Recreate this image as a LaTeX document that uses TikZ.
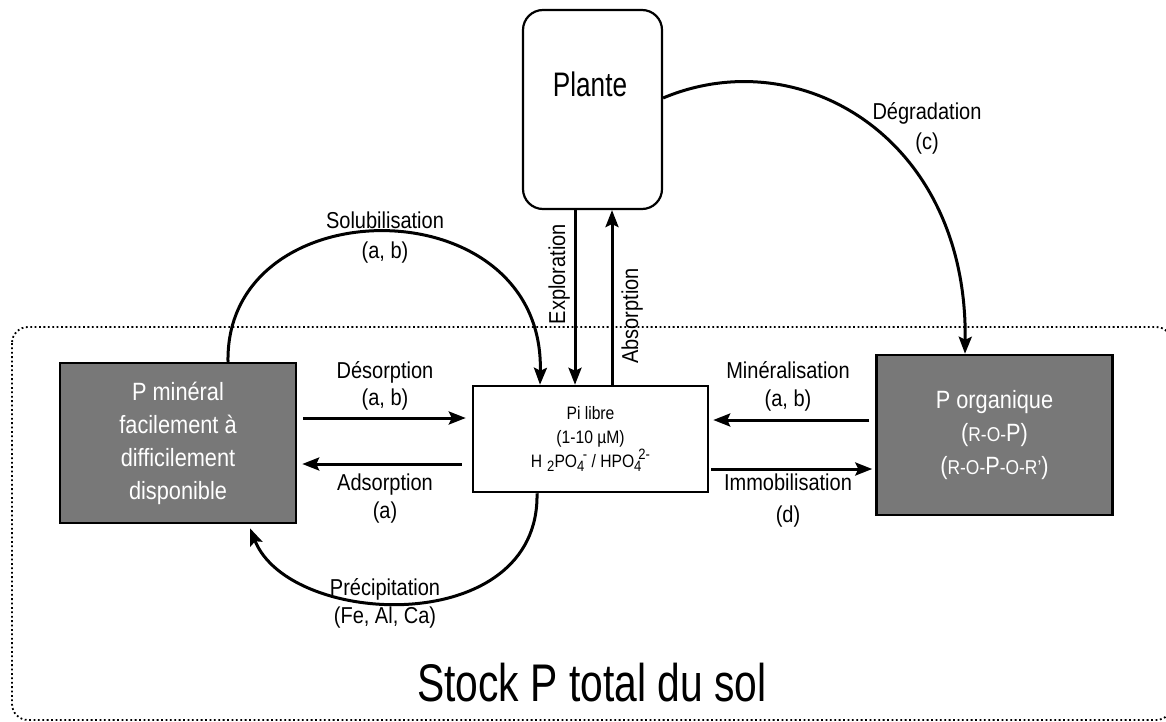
\documentclass[tikz,border=0pt]{standalone}
\usepackage{fontspec}
\setmainfont{Liberation Sans}[FakeStretch=0.87]
\newfontfamily\narrowfont{Liberation Sans}[FakeStretch=0.77]
\usetikzlibrary{arrows.meta,calc}
\definecolor{boxgray}{HTML}{787878}
\newcommand{\mysub}[1]{\raisebox{-0.5ex}{\fontsize{15}{15}\selectfont #1}}
\newcommand{\mysup}[1]{\raisebox{0.8ex}{\fontsize{15}{15}\selectfont #1}}
\newcommand{\smallro}[1]{{\fontsize{20}{20}\selectfont #1}}
\begin{document}
\begin{tikzpicture}[x=1pt,y=-1pt,
  arr/.style={line width=3pt,-{Stealth[length=17pt,width=13pt,inset=3pt]}},
  lbl/.style={anchor=base,inner sep=0pt,font=\fontsize{23}{27}\selectfont},
  graybox/.style={draw,line width=2.5pt,fill=boxgray,text=white,align=center,
    minimum width=236pt,minimum height=160pt,inner sep=0pt,
    font=\fontsize{25}{33}\selectfont},
  pibox/.style={draw,line width=2.5pt,fill=white,align=center,
    minimum width=235pt,minimum height=106pt,inner sep=0pt,
    font=\fontsize{18}{24}\selectfont},
  plantebox/.style={draw,line width=2.2pt,rounded corners=20pt,
    minimum width=139pt,minimum height=199pt,inner sep=0pt},
  dotbox/.style={line width=1.8pt,dash pattern=on 1.8pt off 2.6pt,rounded corners=16pt}
]
\useasboundingbox[fill=white] (0,0) rectangle (1166,722);

% frame of the soil stock
\draw[dotbox] (12,327) rectangle (1172,720);
\node[anchor=base,inner sep=0pt,font=\narrowfont\fontsize{53}{60}\selectfont] (stock) at (592,701) {Stock P total du sol};

% nodes
\node[plantebox] (plante) at (592.5,109.5) {};
\node[anchor=base,inner sep=0pt,font=\narrowfont\fontsize{34}{40}\selectfont] (plantetxt) at (590,97) {Plante};

\node[pibox] (pi) at (590.5,439) {Pi libre\\(1-10 µM)\\H\hspace{5pt}\mysub{2}PO\mysub{4}\kern-1.5pt\mysup{-} / HPO\mysub{4}\kern-3pt\mysup{2-}};

\node[graybox] (pmin) at (178,443) {P minéral\\facilement à\\difficilement\\disponible};
\node[graybox] (porg) at (994.5,435) {P organique\\(\smallro{R-O-}P)\\(\smallro{R-O-}P\smallro{-O-R'})};

% horizontal arrows
\coordinate (d1) at ([shift={(6,-25)}]pmin.east);
\draw[arr,shorten >=6pt] (d1) -- (d1 -| pi.west);
\coordinate (a1) at ([shift={(-10,25)}]pi.west);
\draw[arr,shorten >=5pt] (a1) -- (a1 -| pmin.east);
\coordinate (m1) at ([shift={(-6,-15)}]porg.west);
\draw[arr,shorten >=4pt] (m1) -- (m1 -| pi.east);
\coordinate (i1) at ([shift={(2,30)}]pi.east);
\draw[arr,shorten >=3pt] (i1) -- (i1 -| porg.west);

% vertical arrows
\draw[arr] ([xshift=-17.5pt]plante.south) -- ([xshift=-15.5pt]pi.north);
\draw[arr] ([xshift=21.5pt]pi.north) -- ([xshift=19.5pt]plante.south);

% curved arrows
\draw[arr] ([xshift=50pt]pmin.north) .. controls +(-3,-176) and +(5,-200) .. ([xshift=-50.5pt]pi.north);
\draw[arr] ([xshift=-53.5pt]pi.south) .. controls +(3,145) and +(40,100) .. ([shift={(72,4)}]pmin.south);
\draw[arr] ([yshift=11.5pt]plante.east) .. controls +(138,-58) and +(3,-215) .. ([xshift=-29.5pt]porg.north);

% labels
\node[lbl] (lsol) at (385,228) {Solubilisation};
\node[lbl] (lsol2) at (385,258) {(a, b)};
\node[lbl] (ldes) at (385,378) {Désorption};
\node[lbl] (ldes2) at (385,405) {(a, b)};
\node[lbl] (lads) at (385,490) {Adsorption};
\node[lbl] (lads2) at (385,518) {(a)};
\node[lbl] (lpre) at (385,595) {Précipitation};
\node[lbl] (lpre2) at (385,623) {(Fe, Al, Ca)};
\node[lbl] (lmin) at (788,378) {Minéralisation};
\node[lbl] (lmin2) at (788,406) {(a, b)};
\node[lbl] (limm) at (788,490) {Immobilisation};
\node[lbl] (limm2) at (788,522) {(d)};
\node[lbl] (ldeg) at (927,120) {Dégradation};
\node[lbl] (ldeg2) at (927,150) {(c)};
\node[lbl,rotate=90] (lexp) at (565,274) {Exploration};
\node[lbl,rotate=90] (labs) at (638,316) {Absorption};
\end{tikzpicture}
\end{document}
